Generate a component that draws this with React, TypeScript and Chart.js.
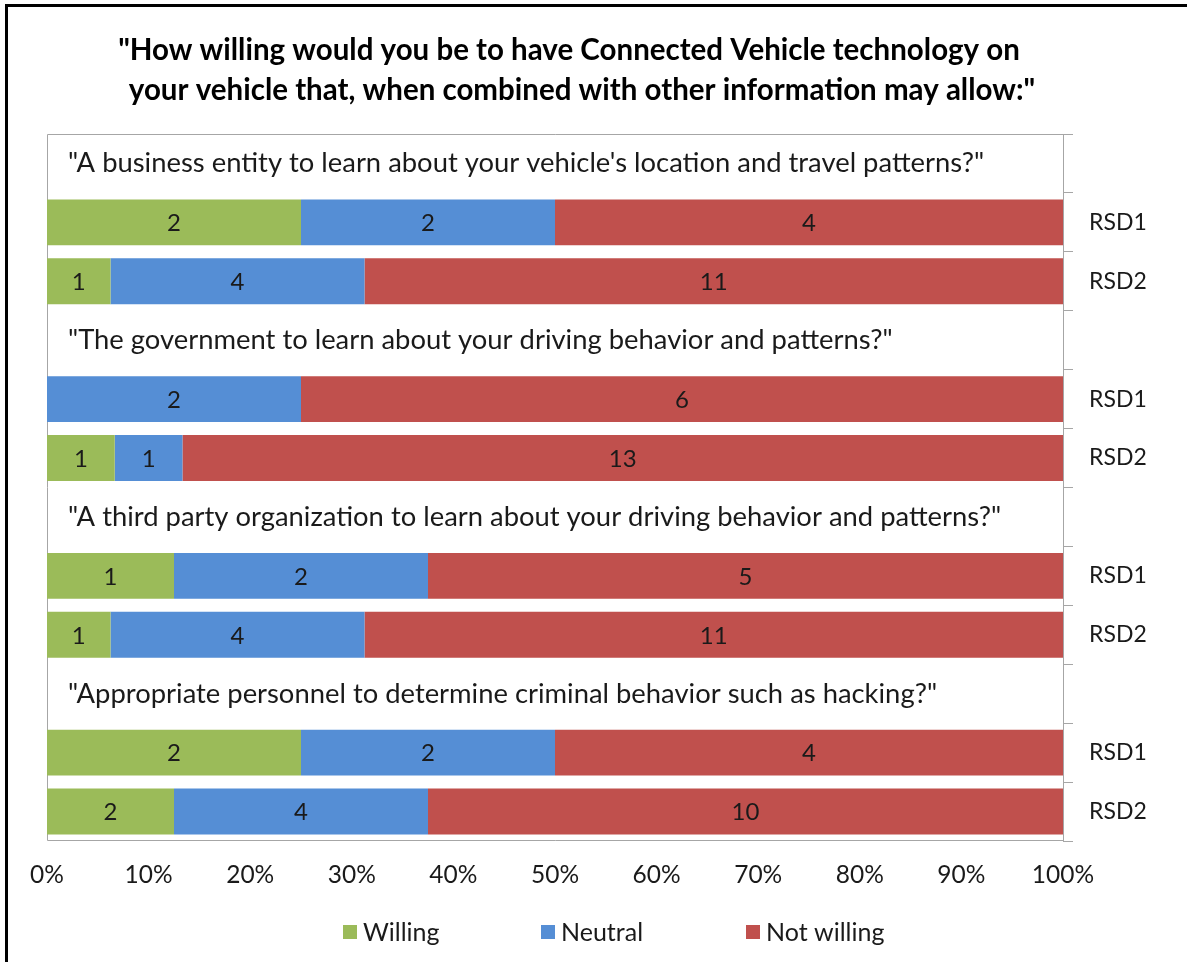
import { useEffect, useRef } from 'react';
import { Chart, registerables } from 'chart.js';

Chart.register(...registerables);

const titleLines = [
  '"How willing would you be to have Connected Vehicle technology on',
  'your vehicle that, when combined with other information may allow:"',
];
const questions = [
  '"A business entity to learn about your vehicle\'s location and travel patterns?"',
  '"The government to learn about your driving behavior and patterns?"',
  '"A third party organization to learn about your driving behavior and patterns?"',
  '"Appropriate personnel to determine criminal behavior such as hacking?"',
];
const groups = ['RSD1', 'RSD2'];
const seriesNames = ['Willing', 'Neutral', 'Not willing'];
const seriesColors = ['#9BBB59', '#558ED5', '#C0504D'];
const xTicks = [0, 10, 20, 30, 40, 50, 60, 70, 80, 90, 100];

// counts per question, [RSD1, RSD2]
const willing = [[2, 1], [0, 1], [1, 1], [2, 2]];
const neutral = [[2, 4], [2, 1], [2, 4], [2, 4]];
const notWilling = [[4, 11], [6, 13], [5, 11], [4, 10]];

const FONT = 'Lato, "Open Sans", sans-serif';
const TEXT = '#1a1a1a';
const GRID = '#a6a6a6';

export default function App() {
  const ref = useRef<HTMLCanvasElement | null>(null);

  useEffect(() => {
    if (!ref.current) return;
    const labels: string[] = [];
    const headers: (string | null)[] = [];
    const counts: (number | null)[][] = [[], [], []];
    const series = [willing, neutral, notWilling];
    questions.forEach((q, qi) => {
      labels.push('');
      headers.push(q);
      counts.forEach((c) => c.push(null));
      groups.forEach((g, gi) => {
        labels.push(g);
        headers.push(null);
        series.forEach((s, si) => counts[si].push(s[qi][gi]));
      });
    });
    const totals = labels.map((_, i) =>
      counts.reduce((a, c) => a + (c[i] ?? 0), 0)
    );
    const datasets = seriesNames.map((name, si) => ({
      label: name,
      data: counts[si].map((v, i) => (v == null ? null : (v / totals[i]) * 100)),
      backgroundColor: seriesColors[si],
      borderWidth: 0,
      barPercentage: 0.78,
      categoryPercentage: 1,
    }));

    const overlay = {
      id: 'overlay',
      beforeDatasetsDraw(chart: any) {
        const { ctx, chartArea: a } = chart;
        ctx.save();
        ctx.strokeStyle = GRID;
        ctx.lineWidth = 1;
        ctx.beginPath();
        ctx.moveTo(a.right, a.top + 0.5);
        ctx.lineTo(a.left + 0.5, a.top + 0.5);
        ctx.lineTo(a.left + 0.5, a.bottom - 0.5);
        ctx.lineTo(a.right, a.bottom - 0.5);
        ctx.stroke();
        ctx.restore();
      },
      afterDatasetsDraw(chart: any) {
        const { ctx, chartArea: a } = chart;
        const yScale = chart.scales.y;
        ctx.save();
        ctx.fillStyle = TEXT;
        ctx.font = `27.4px ${FONT}`;
        ctx.textBaseline = 'middle';
        ctx.textAlign = 'left';
        headers.forEach((h, i) => {
          if (h) ctx.fillText(h, a.left + 21, yScale.getPixelForValue(i));
        });
        ctx.font = `24px ${FONT}`;
        ctx.textAlign = 'center';
        chart.data.datasets.forEach((ds: any, di: number) => {
          const meta = chart.getDatasetMeta(di);
          meta.data.forEach((el: any, i: number) => {
            const c = counts[di][i];
            if (!c) return;
            const x = (el.x + el.base) / 2;
            ctx.fillText(String(c), x, el.y + 1);
          });
        });
        // title
        ctx.font = `bold 29.5px ${FONT}`;
        ctx.fillStyle = '#000';
        ctx.fillText(titleLines[0], 569, 50);
        ctx.fillText(titleLines[1], 582, 90);
        // legend
        ctx.font = `25px ${FONT}`;
        ctx.textAlign = 'left';
        const lx = [343, 541, 746];
        seriesNames.forEach((n, si) => {
          ctx.fillStyle = seriesColors[si];
          ctx.fillRect(lx[si], 925, 14, 14);
          ctx.fillStyle = TEXT;
          ctx.fillText(n, lx[si] + 20, 933);
        });
        ctx.restore();
      },
    };

    const chart = new Chart(ref.current, {
      type: 'bar',
      data: { labels, datasets },
      options: {
        indexAxis: 'y',
        animation: false,
        responsive: false,
        layout: { padding: { top: 134, left: 47, right: 0, bottom: 0 } },
        plugins: {
          legend: { display: false },
          title: { display: false },
          tooltip: { enabled: false },
        },
        scales: {
          x: {
            type: 'linear',
            stacked: true,
            min: 0,
            max: 100,
            afterBuildTicks: (s: any) => {
              s.ticks = xTicks.map((v) => ({ value: v }));
            },
            afterFit: (s: any) => {
              s.height = 121;
            },
            grid: { display: false, drawTicks: false },
            border: { display: false },
            ticks: {
              callback: (v: any) => v + '%',
              font: { family: FONT, size: 24.5 },
              color: TEXT,
              padding: 19,
              maxRotation: 0,
              autoSkip: false,
            },
          },
          y: {
            type: 'category',
            stacked: true,
            position: 'right',
            offset: true,
            afterFit: (s: any) => {
              s.width = 124;
            },
            grid: {
              offset: true,
              drawOnChartArea: false,
              tickLength: 10,
              color: GRID,
            },
            border: { color: GRID },
            ticks: {
              font: { family: FONT, size: 23 },
              color: TEXT,
              padding: 16,
            },
          },
        },
      },
      plugins: [overlay],
    });
    return () => chart.destroy();
  }, []);

  return (
    <div style={{ position: 'absolute', left: 0, top: 0, width: 1187, height: 962, background: '#fff' }}>
      <canvas ref={ref} width={1187} height={962} style={{ position: 'absolute', left: 0, top: 0 }} />
      <div style={{ position: 'absolute', left: 5, top: 4, width: 1182, height: 3, background: '#000' }} />
      <div style={{ position: 'absolute', left: 5, top: 4, width: 3, height: 958, background: '#000' }} />
    </div>
  );
}
